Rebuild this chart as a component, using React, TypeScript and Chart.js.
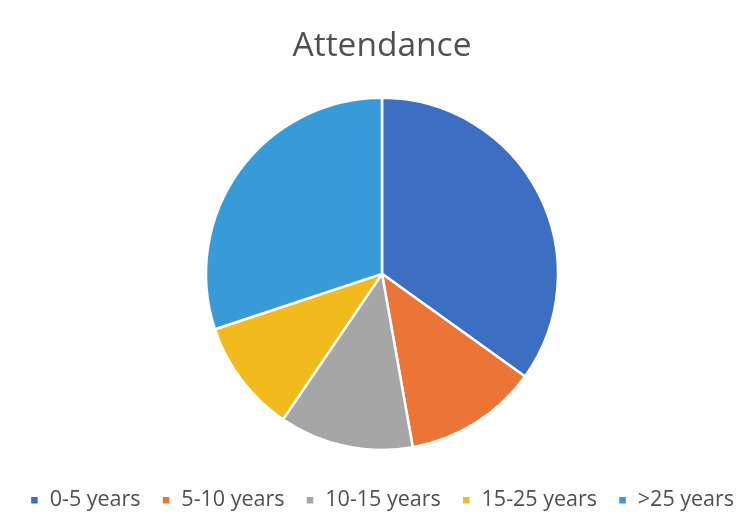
import React, { useEffect, useRef } from "react";
import { Chart, registerables } from "chart.js";

Chart.register(...registerables);

const categories = ["0-5 years", "5-10 years", "10-15 years", "15-25 years", ">25 years"];
const values = [34.9, 12.3, 12.3, 10.4, 30.1];
const colors = ["#3c6fc2", "#eb7537", "#a6a6a6", "#f2bb1d", "#389bd7"];
const titleText = "Attendance";

export default function App() {
  const ref = useRef<HTMLCanvasElement | null>(null);
  useEffect(() => {
    if (!ref.current) return;
    const chart = new Chart(ref.current, {
      type: "pie",
      data: {
        labels: categories,
        datasets: [
          {
            data: values,
            backgroundColor: colors,
            borderColor: "#ffffff",
            borderWidth: 2.5,
            radius: 176,
          },
        ],
      },
      options: {
        animation: false,
        responsive: true,
        maintainAspectRatio: false,
        layout: { padding: { top: 0, bottom: 8, left: 0, right: 0 } },
        plugins: {
          title: {
            display: true,
            text: titleText,
            color: "#505050",
            font: { family: "'Open Sans', sans-serif", size: 33.5, weight: "normal" },
            padding: { top: 26.6, bottom: 12.4 },
          },
          legend: {
            position: "bottom",
            labels: {
              boxWidth: 9,
              boxHeight: 9,
              padding: 21,
              color: "#505050",
              font: { family: "'Open Sans', sans-serif", size: 21.5 },
            },
          },
          tooltip: { enabled: false },
        },
      },
    });
    return () => chart.destroy();
  }, []);
  return (
    <div style={{ position: "fixed", left: 0, top: 0, width: 764, height: 529, background: "#fff" }}>
      <canvas ref={ref} />
    </div>
  );
}
